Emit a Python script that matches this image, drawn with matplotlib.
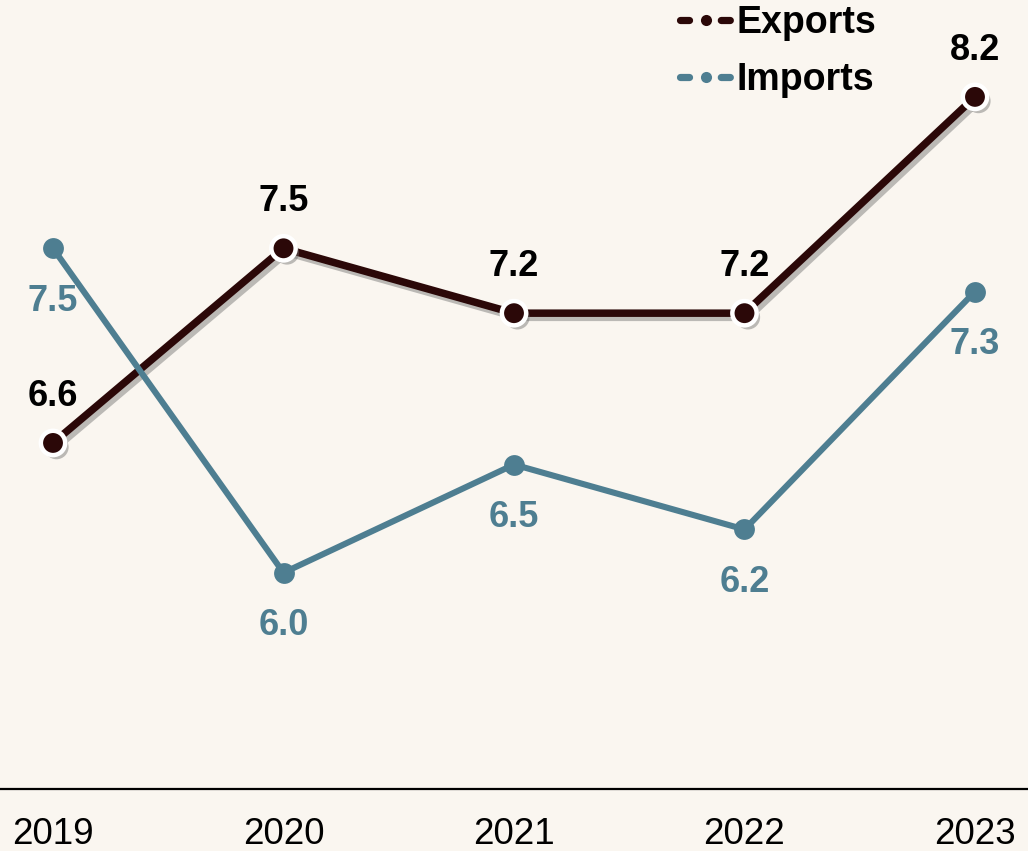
import matplotlib
matplotlib.use("Agg")
import matplotlib.pyplot as plt
import matplotlib.patheffects as pe
from matplotlib.lines import Line2D

years = [2019, 2020, 2021, 2022, 2023]
exports = [6.6, 7.5, 7.2, 7.2, 8.2]
imports = [7.5, 6.0, 6.5, 6.2, 7.3]
series_names = ["Exports", "Imports"]

BG = "#faf6f0"
EXP_COLOR = "#2b0808"
IMP_COLOR = "#4e7e91"

fig = plt.figure(figsize=(10.28, 8.51), dpi=100, facecolor=BG)
ax = fig.add_axes([0, 62 / 851, 1, 789 / 851])
ax.set_facecolor(BG)

ax.set_xlim(2018.77, 2023.23)
ax.set_ylim(5.0, 8.648)

line_shadow = [pe.SimpleLineShadow(offset=(2.5, -3), shadow_color="#6f6f6f", alpha=0.45), pe.Normal()]
marker_shadow = [pe.SimplePatchShadow(offset=(2.5, -3), shadow_rgbFace="#6f6f6f", alpha=0.45), pe.Normal()]

# Exports: dark line with white-ringed markers
ax.plot(years, exports, color=EXP_COLOR, lw=5.4, solid_capstyle="round",
        path_effects=line_shadow, zorder=3)
ax.plot(years, exports, linestyle="none", marker="o", markersize=17.5,
        markerfacecolor=EXP_COLOR, markeredgecolor="white", markeredgewidth=3.2,
        path_effects=marker_shadow, zorder=4)

# Imports: teal line with plain markers
ax.plot(years, imports, color=IMP_COLOR, lw=4.4, solid_capstyle="round", zorder=5)
ax.plot(years, imports, linestyle="none", marker="o", markersize=15,
        markerfacecolor=IMP_COLOR, markeredgewidth=0, zorder=6)

for x, v in zip(years, exports):
    ax.annotate(f"{v:.1f}", (x, v), xytext=(0, 33.5), textcoords="offset points",
                ha="center", va="center", fontsize=26, fontweight="bold",
                family="Liberation Sans", color="black", zorder=7)
for x, v in zip(years, imports):
    ax.annotate(f"{v:.1f}", (x, v), xytext=(0, -38), textcoords="offset points",
                ha="center", va="center", fontsize=26, fontweight="bold",
                family="Liberation Sans", color=IMP_COLOR, zorder=7)

for side in ["top", "left", "right"]:
    ax.spines[side].set_visible(False)
ax.spines["bottom"].set_linewidth(1.6)
ax.spines["bottom"].set_color("black")
ax.set_yticks([])
ax.set_xticks(years)
ax.set_xticklabels([str(y) for y in years], fontsize=26.5, family="Liberation Sans")
ax.tick_params(axis="x", length=0, pad=20)

handles = [
    Line2D([], [], color=c, lw=5.2, dashes=(1.25, 4.4), dash_capstyle="round",
           marker="o", markersize=8, markeredgewidth=0)
    for c in (EXP_COLOR, IMP_COLOR)
]
leg = fig.legend(handles, series_names, loc="upper left",
                 bbox_to_anchor=(680 / 1028, 1 - 5 / 851),
                 frameon=False, borderpad=0, borderaxespad=0, handlelength=1.36,
                 handletextpad=0.15, labelspacing=0.56,
                 prop={"family": "Liberation Sans", "weight": "bold", "size": 27})

fig.savefig("out.png", dpi=100, facecolor=BG)
